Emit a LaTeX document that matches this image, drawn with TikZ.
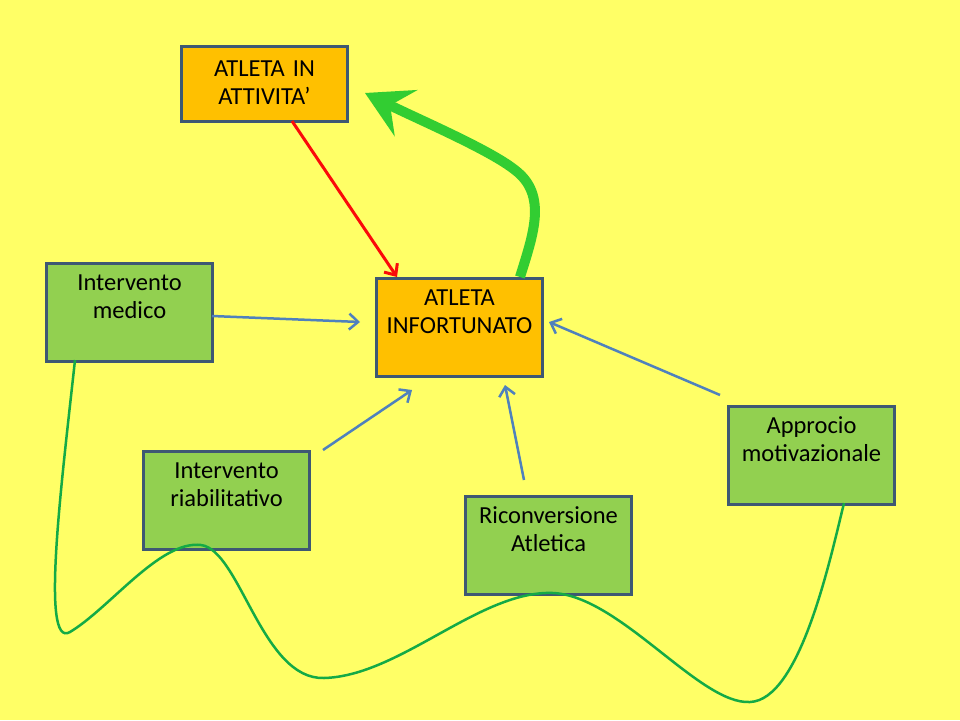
\documentclass[tikz,border=0pt]{standalone}
\usepackage{fontspec}
\setmainfont{Carlito}
\usetikzlibrary{arrows.meta}
\definecolor{bg}{RGB}{255,255,102}
\definecolor{orangefill}{RGB}{255,192,0}
\definecolor{greenfill}{RGB}{146,208,80}
\definecolor{border}{RGB}{62,88,115}
\definecolor{bluearrow}{RGB}{79,129,189}
\definecolor{redarrow}{RGB}{250,10,10}
\definecolor{thickgreen}{RGB}{50,205,50}
\definecolor{thingreen}{RGB}{20,170,70}
\begin{document}
\begin{tikzpicture}[x=1pt,y=-1pt,
  box/.style={draw=border, line width=3pt, minimum width=166pt, minimum height=98pt, inner sep=0pt, anchor=north west},
  obox/.style={box, fill=orangefill},
  gbox/.style={box, fill=greenfill},
  lbl/.style={text width=164pt, align=center, inner sep=0pt, anchor=base, font=\fontsize{24.5}{28}\selectfont},
  bluearr/.style={draw=bluearrow, line width=2.5pt, -{Straight Barb[length=9pt,width=16pt]}},
  redarr/.style={draw=redarrow, line width=3pt, -{Straight Barb[length=9pt,width=16pt]}},
  bigarr/.style={draw=thickgreen, line width=10pt, -{Stealth[length=46pt,width=52pt,inset=18pt,line width=0pt]}},
  wave/.style={draw=thingreen, line width=2.5pt}
]
\fill[bg] (0,0) rectangle (960,720);
\useasboundingbox (0,0) rectangle (960,720);

% boxes
\node[obox, minimum height=75pt] (A) at (180,45) {};
\node[obox] (B) at (375,277) {};
\node[gbox] (C) at (45,262) {};
\node[gbox] (D) at (142,450) {};
\node[gbox] (E) at (464,495) {};
\node[gbox] (F) at (727,405) {};

% labels
\node[lbl, yshift=-31pt] (tA) at (A.north) {ATLETA IN\\ATTIVITA’};
\node[lbl, yshift=-28pt] (tB) at (B.north) {ATLETA\\INFORTUNATO};
\node[lbl, yshift=-28pt] (tC) at (C.north) {Intervento\\medico};
\node[lbl, yshift=-28pt] (tD) at (D.north) {Intervento\\riabilitativo};
\node[lbl, yshift=-28pt] (tE) at (E.north) {Riconversione\\Atletica};
\node[lbl, yshift=-28pt] (tF) at (F.north) {Approcio\\motivazionale};

% connector end points
\coordinate (a1) at (292,121);
\coordinate (b1) at (397,277);
\coordinate (b2) at (520,277);
\coordinate (a2) at (365,93);
\coordinate (c1) at (212,316);
\coordinate (cb) at (360,322);
\coordinate (d1) at (323,450);
\coordinate (db) at (412,390);
\coordinate (e1) at (524,480);
\coordinate (eb) at (505,385);
\coordinate (f1) at (720,395);
\coordinate (fb) at (549,322);
\coordinate (w0) at (75,360);
\coordinate (w5) at (844,503);

% arrows
\draw[redarr] (a1) -- (b1);
\draw[bigarr] (b2) .. controls (533,235) and (548,195) .. (515,170) .. controls (490,150) and (420,120) .. (a2);
\draw[bluearr] (c1) -- (cb);
\draw[bluearr] (d1) -- (db);
\draw[bluearr] (e1) -- (eb);
\draw[bluearr] (f1) -- (fb);

% wave
\draw[wave] (w0) .. controls (62,480) and (40,650) .. (70,632)
  .. controls (110,608) and (160,540) .. (201,545)
  .. controls (240,550) and (262,680) .. (324,678)
  .. controls (400,676) and (480,590) .. (553,593)
  .. controls (620,596) and (700,705) .. (750,702)
  .. controls (800,700) and (830,560) .. (w5);
\end{tikzpicture}
\end{document}
